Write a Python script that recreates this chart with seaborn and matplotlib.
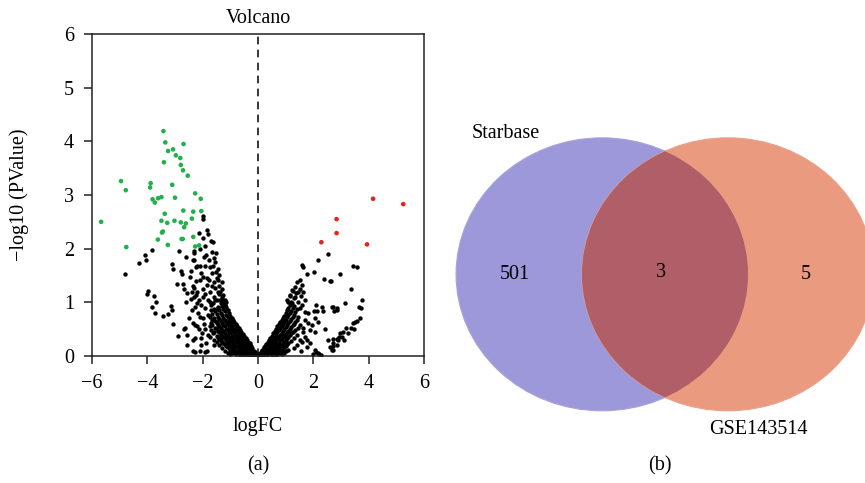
import matplotlib
matplotlib.use("Agg")
import matplotlib.pyplot as plt
from matplotlib.patches import Ellipse
import seaborn as sns
import pandas as pd

# ---------------- data ----------------
up_x = [4.16, 5.25, 2.84, 2.84, 2.29, 3.94]
up_y = [2.93, 2.83, 2.55, 2.29, 2.12, 2.08]

down_x = [-3.42, -3.35, -3.25, -3.07, -2.69, -2.97, -2.81, -3.40, -2.79, -2.71, -2.54,
          -4.95, -4.78, -3.88, -3.90, -3.10, -3.81, -3.73, -3.61, -3.49, -3.00, -2.27,
          -2.07, -5.67, -3.37, -2.70, -2.34, -2.05, -3.49, -3.28, -3.02, -2.79, -2.61,
          -2.67, -2.39, -3.44, -3.47, -3.62, -3.26, -2.76, -2.72, -2.34, -4.76, -2.27, -2.13]
down_y = [4.19, 3.98, 3.82, 3.85, 3.95, 3.74, 3.69, 3.61, 3.56, 3.46, 3.36,
          3.26, 3.09, 3.22, 3.14, 3.19, 2.92, 2.86, 2.94, 2.96, 2.95, 3.03,
          2.93, 2.50, 2.65, 2.71, 2.69, 2.70, 2.52, 2.48, 2.52, 2.49, 2.47,
          2.40, 2.56, 2.32, 2.30, 2.17, 2.07, 2.18, 2.18, 2.22, 2.03, 2.04, 2.06]

left_scatter = [(-4.81, 1.52), (-4.29, 1.74), (-4.08, 1.89), (-4.05, 1.78), (-3.84, 1.98),
    (-4.02, 1.16), (-3.99, 1.21), (-3.75, 1.11), (-3.69, 1.00), (-3.83, 0.92), (-3.71, 0.81),
    (-3.42, 0.74), (-3.24, 0.78), (-3.16, 0.93), (-3.12, 0.86), (-3.06, 0.60), (-2.88, 0.37),
    (-2.56, 0.39), (-2.67, 0.50), (-2.63, 0.53), (-3.10, 1.71), (-3.08, 1.62), (-2.86, 1.96),
    (-2.79, 1.58), (-2.75, 1.53), (-2.60, 1.85), (-2.93, 1.34), (-2.67, 1.25), (-2.56, 1.18),
    (-2.43, 1.58), (-2.45, 1.47), (-2.39, 1.20), (-2.41, 1.06), (-2.37, 0.86), (-2.30, 1.91),
    (-2.31, 1.78), (-2.25, 1.66), (-2.34, 1.31), (-2.31, 1.26), (-2.24, 1.14), (-2.19, 0.98),
    (-2.28, 0.08), (-2.28, 0.58), (-2.34, 0.10), (-2.10, 0.09), (-1.85, 0.10), (-2.05, 0.33),
    (-2.00, 2.60), (-1.98, 2.55), (-1.83, 2.35), (-1.80, 2.27), (-1.71, 2.15), (-1.62, 2.13),
    (-1.67, 1.94), (-1.53, 1.91), (-1.59, 1.82), (-2.31, 1.96), (-2.34, 1.79), (-2.22, 1.68),
    (-2.10, 1.68), (-1.92, 1.68), (-1.73, 1.66), (-1.55, 1.76), (-1.52, 1.57), (-1.40, 1.51),
    (-1.43, 1.42), (-1.31, 1.38), (-1.98, 1.48), (-2.10, 1.42), (-1.85, 1.32), (-1.67, 1.30),
    (-1.55, 1.26), (-1.37, 1.20), (-1.25, 1.14), (-2.22, 1.20), (-2.00, 1.10), (-1.80, 1.04),
    (-1.62, 0.98), (-1.43, 0.92), (-1.19, 0.95), (-1.13, 0.86), (-2.28, 0.92), (-2.10, 0.73),
    (-1.98, 0.70), (-1.80, 0.76), (-1.67, 0.67), (-1.49, 0.64), (-2.34, 0.61), (-2.03, 0.42),
    (-1.80, 0.39), (-1.62, 0.42), (-1.43, 0.36), (-1.31, 0.24), (-1.13, 0.19), (-1.01, 0.17),
    (-0.83, 0.08), (-1.92, 0.08), (-2.28, 0.33), (-1.20, 1.05), (-1.30, 1.25), (-1.45, 1.20),
    (-1.60, 1.10), (-1.75, 1.00), (-1.90, 0.90), (-1.50, 1.45), (-1.65, 1.55), (-1.85, 1.45),
    (-2.00, 1.25), (-2.15, 1.05), (-2.30, 1.10), (-1.95, 1.85), (-2.10, 2.00), (-2.15, 2.30),
    (-1.90, 2.05), (-2.20, 0.55), (-2.50, 0.70), (-2.60, 1.00), (-2.70, 1.35), (-2.55, 0.20),
    (-2.35, 0.30), (-1.90, 0.50), (-2.05, 0.20), (-1.75, 1.20), (-1.58, 1.38), (-1.36, 1.05),
    (-1.28, 0.98), (-1.70, 0.85), (-1.95, 0.60), (-2.12, 0.50), (-1.88, 0.25), (-1.60, 0.20),
    (-1.88, 1.88), (-1.76, 1.78), (-1.64, 1.68), (-1.45, 1.62), (-1.40, 1.30), (-1.55, 1.05),
    (-1.92, 1.15), (-2.05, 0.95), (-2.18, 0.80), (-1.72, 0.55), (-1.55, 0.85), (-2.00, 2.20),
    (-2.05, 1.55), (-1.15, 1.00), (-2.25, 1.40), (-1.78, 1.42)]

left_core = [(-0.05, 0.02), (-0.05, 0.04), (-0.10, 0.03), (-0.10, 0.07), (-0.10, 0.01),
    (-0.15, 0.05), (-0.15, 0.10), (-0.15, 0.02), (-0.20, 0.12), (-0.20, 0.06), (-0.20, 0.15),
    (-0.20, 0.03), (-0.25, 0.18), (-0.25, 0.09), (-0.25, 0.02), (-0.30, 0.20), (-0.30, 0.13),
    (-0.30, 0.05), (-0.30, 0.24), (-0.35, 0.26), (-0.35, 0.17), (-0.35, 0.08), (-0.35, 0.01),
    (-0.40, 0.30), (-0.40, 0.22), (-0.40, 0.11), (-0.40, 0.04), (-0.45, 0.33), (-0.45, 0.25),
    (-0.45, 0.15), (-0.45, 0.06), (-0.50, 0.37), (-0.50, 0.28), (-0.50, 0.19), (-0.50, 0.10),
    (-0.50, 0.02), (-0.55, 0.41), (-0.55, 0.31), (-0.55, 0.22), (-0.55, 0.13), (-0.55, 0.05),
    (-0.60, 0.45), (-0.60, 0.36), (-0.60, 0.26), (-0.60, 0.16), (-0.60, 0.07), (-0.65, 0.48),
    (-0.65, 0.39), (-0.65, 0.29), (-0.65, 0.20), (-0.65, 0.10), (-0.65, 0.02), (-0.70, 0.52),
    (-0.70, 0.42), (-0.70, 0.33), (-0.70, 0.23), (-0.70, 0.13), (-0.70, 0.05), (-0.75, 0.56),
    (-0.75, 0.46), (-0.75, 0.36), (-0.75, 0.26), (-0.75, 0.16), (-0.75, 0.08), (-0.80, 0.60),
    (-0.80, 0.49), (-0.80, 0.39), (-0.80, 0.29), (-0.80, 0.19), (-0.80, 0.10), (-0.80, 0.03),
    (-0.85, 0.63), (-0.85, 0.53), (-0.85, 0.42), (-0.85, 0.32), (-0.85, 0.22), (-0.85, 0.12),
    (-0.90, 0.67), (-0.90, 0.56), (-0.90, 0.46), (-0.90, 0.35), (-0.90, 0.25), (-0.90, 0.15),
    (-0.90, 0.06), (-0.95, 0.70), (-0.95, 0.60), (-0.95, 0.49), (-0.95, 0.38), (-0.95, 0.28),
    (-0.95, 0.18), (-0.95, 0.09), (-1.00, 0.75), (-1.00, 0.64), (-1.00, 0.52), (-1.00, 0.42),
    (-1.00, 0.31), (-1.00, 0.21), (-1.00, 0.11), (-1.00, 0.03), (-1.05, 0.80), (-1.05, 0.68),
    (-1.05, 0.56), (-1.05, 0.45), (-1.05, 0.34), (-1.05, 0.24), (-1.05, 0.14), (-1.10, 0.85),
    (-1.10, 0.72), (-1.10, 0.60), (-1.10, 0.48), (-1.10, 0.37), (-1.10, 0.27), (-1.10, 0.16),
    (-1.10, 0.06), (-1.15, 0.92), (-1.15, 0.77), (-1.15, 0.63), (-1.15, 0.51), (-1.15, 0.40),
    (-1.15, 0.30), (-1.15, 0.19), (-1.20, 0.98), (-1.20, 0.83), (-1.20, 0.67), (-1.20, 0.55),
    (-1.20, 0.43), (-1.20, 0.33), (-1.20, 0.22), (-1.20, 0.10), (-1.25, 1.05), (-1.25, 0.88),
    (-1.25, 0.71), (-1.25, 0.58), (-1.25, 0.46), (-1.25, 0.36), (-1.25, 0.25), (-1.30, 1.10),
    (-1.30, 0.93), (-1.30, 0.76), (-1.30, 0.61), (-1.30, 0.49), (-1.30, 0.38), (-1.30, 0.27),
    (-1.30, 0.14), (-1.35, 0.99), (-1.35, 0.80), (-1.35, 0.65), (-1.35, 0.52), (-1.35, 0.41),
    (-1.35, 0.30), (-1.40, 1.15), (-1.40, 0.85), (-1.40, 0.69), (-1.40, 0.55), (-1.40, 0.44),
    (-1.40, 0.32), (-1.40, 0.20), (-1.45, 0.90), (-1.45, 0.73), (-1.45, 0.58), (-1.45, 0.47),
    (-1.45, 0.35), (-1.50, 1.05), (-1.50, 0.78), (-1.50, 0.62), (-1.50, 0.50), (-1.50, 0.38),
    (-1.50, 0.26), (-1.55, 0.83), (-1.55, 0.66), (-1.55, 0.53), (-1.60, 0.88), (-1.60, 0.70),
    (-1.60, 0.45), (-1.60, 0.30), (-1.65, 0.79), (-1.65, 0.57), (-1.70, 0.95), (-1.70, 0.62),
    (-1.70, 0.48), (-1.75, 0.72), (-1.75, 0.35)]

right_core = [(0.05, 0.02), (0.05, 0.04), (0.10, 0.06), (0.10, 0.02), (0.10, 0.08),
    (0.15, 0.10), (0.15, 0.04), (0.15, 0.12), (0.20, 0.14), (0.20, 0.07), (0.20, 0.02),
    (0.20, 0.16), (0.25, 0.18), (0.25, 0.10), (0.25, 0.04), (0.30, 0.22), (0.30, 0.14),
    (0.30, 0.06), (0.30, 0.01), (0.35, 0.26), (0.35, 0.17), (0.35, 0.09), (0.35, 0.03),
    (0.40, 0.30), (0.40, 0.21), (0.40, 0.12), (0.40, 0.05), (0.45, 0.34), (0.45, 0.25),
    (0.45, 0.15), (0.45, 0.07), (0.50, 0.38), (0.50, 0.28), (0.50, 0.19), (0.50, 0.10),
    (0.50, 0.02), (0.55, 0.42), (0.55, 0.32), (0.55, 0.22), (0.55, 0.13), (0.55, 0.05),
    (0.60, 0.46), (0.60, 0.36), (0.60, 0.26), (0.60, 0.16), (0.60, 0.07), (0.65, 0.50),
    (0.65, 0.40), (0.65, 0.29), (0.65, 0.19), (0.65, 0.10), (0.65, 0.02), (0.70, 0.55),
    (0.70, 0.44), (0.70, 0.33), (0.70, 0.22), (0.70, 0.12), (0.70, 0.04), (0.75, 0.59),
    (0.75, 0.48), (0.75, 0.36), (0.75, 0.25), (0.75, 0.15), (0.75, 0.06), (0.80, 0.63),
    (0.80, 0.52), (0.80, 0.40), (0.80, 0.29), (0.80, 0.18), (0.80, 0.08), (0.85, 0.67),
    (0.85, 0.55), (0.85, 0.43), (0.85, 0.32), (0.85, 0.21), (0.85, 0.11), (0.85, 0.03),
    (0.90, 0.71), (0.90, 0.59), (0.90, 0.47), (0.90, 0.35), (0.90, 0.24), (0.90, 0.13),
    (0.95, 0.75), (0.95, 0.63), (0.95, 0.50), (0.95, 0.38), (0.95, 0.27), (0.95, 0.16),
    (0.95, 0.06), (1.00, 0.80), (1.00, 0.67), (1.00, 0.54), (1.00, 0.41), (1.00, 0.30),
    (1.00, 0.19), (1.00, 0.09), (1.05, 0.85), (1.05, 0.72), (1.05, 0.57), (1.05, 0.44),
    (1.05, 0.33), (1.05, 0.22), (1.10, 0.90), (1.10, 0.76), (1.10, 0.61), (1.10, 0.47),
    (1.10, 0.36), (1.10, 0.25), (1.10, 0.12), (1.15, 0.95), (1.15, 0.80), (1.15, 0.65),
    (1.15, 0.50), (1.15, 0.39), (1.20, 1.00), (1.20, 0.84), (1.20, 0.69), (1.20, 0.54),
    (1.20, 0.42), (1.20, 0.28), (1.25, 0.89), (1.25, 0.73), (1.25, 0.58), (1.25, 0.45),
    (1.30, 0.93), (1.30, 0.77), (1.30, 0.60), (1.30, 0.33), (1.30, 0.15), (1.35, 0.82),
    (1.35, 0.64), (1.35, 0.48), (1.40, 0.87), (1.40, 0.68), (1.40, 0.40), (1.40, 0.20),
    (1.45, 0.72), (1.45, 0.52), (1.50, 0.90), (1.50, 0.58), (1.50, 0.30)]

right_scatter = [(1.58, 1.70), (1.62, 1.66), (1.76, 1.53), (2.04, 1.56), (2.16, 1.79),
    (2.54, 1.90), (1.40, 1.38), (1.52, 1.42), (1.58, 1.32), (1.34, 1.29), (1.22, 1.23),
    (1.46, 1.20), (1.64, 1.20), (1.16, 1.14), (1.34, 1.10), (1.70, 1.04), (1.10, 1.01),
    (1.22, 0.98), (2.40, 1.43), (2.60, 1.40), (2.08, 0.95), (2.04, 0.83), (2.30, 0.92),
    (1.82, 0.80), (2.12, 0.84), (2.36, 0.83), (2.70, 0.92), (2.84, 0.86), (2.06, 0.70),
    (2.18, 0.64), (2.42, 0.50), (1.70, 0.67), (1.82, 0.61), (1.64, 0.52), (1.88, 0.48),
    (2.06, 0.45), (1.70, 0.36), (1.58, 0.27), (1.88, 0.24), (1.76, 0.17), (2.06, 0.11),
    (2.18, 0.05), (2.60, 0.17), (2.72, 0.24), (2.66, 0.11), (2.88, 0.30), (2.54, 0.30),
    (3.45, 1.68), (3.59, 1.66), (2.96, 1.52), (2.63, 1.40), (3.35, 1.25), (3.16, 0.98),
    (3.77, 1.04), (3.65, 0.91), (3.72, 0.90), (2.69, 0.92), (2.75, 0.84), (2.87, 0.90),
    (3.69, 0.71), (3.57, 0.66), (3.51, 0.64), (3.42, 0.61), (3.35, 0.52), (3.47, 0.51),
    (3.18, 0.52), (3.26, 0.42), (3.08, 0.45), (2.96, 0.42), (3.02, 0.36), (2.94, 0.35),
    (2.84, 0.31), (2.72, 0.31), (3.11, 0.29), (2.87, 0.20), (2.70, 0.19), (2.72, 0.11),
    (2.00, 0.04), (2.10, 0.07), (2.20, 0.03), (2.28, 0.01), (1.05, 1.05), (1.15, 1.12),
    (1.25, 1.22), (1.30, 1.08), (1.38, 1.18), (1.45, 1.00), (1.55, 1.12), (1.50, 1.25),
    (1.60, 0.95), (1.70, 0.82), (1.62, 0.45), (1.78, 0.30), (1.55, 0.10), (1.95, 0.58)]

ns_x = [p[0] for p in left_scatter + left_core + right_core + right_scatter]
ns_y = [p[1] for p in left_scatter + left_core + right_core + right_scatter]

x_ticks = [-6, -4, -2, 0, 2, 4, 6]
y_ticks = [0, 1, 2, 3, 4, 5, 6]

venn_sets = ["Starbase", "GSE143514"]
venn_counts = [501, 3, 5]   # only Starbase, both, only GSE143514

# ---------------- style ----------------
sns.set_theme(style="white")
plt.rcParams["font.family"] = ["Liberation Serif", "DejaVu Serif"]
plt.rcParams["axes.unicode_minus"] = True
plt.rcParams["text.color"] = "black"
plt.rcParams["axes.labelcolor"] = "black"
plt.rcParams["xtick.color"] = "black"
plt.rcParams["ytick.color"] = "black"
FS = 14.5

fig = plt.figure(figsize=(8.65, 4.83), dpi=100)
W, H = 865, 483
ax = fig.add_axes([92 / W, 1 - 356 / H, 332 / W, 322 / H])

df_ns = pd.DataFrame({"logFC": ns_x, "nlogp": ns_y})
df_sig = pd.DataFrame({"logFC": up_x + down_x, "nlogp": up_y + down_y,
                       "group": ["Up"] * len(up_x) + ["Down"] * len(down_x)})

sns.scatterplot(data=df_ns, x="logFC", y="nlogp", color="black", s=10,
                linewidth=0, ax=ax, legend=False)
sns.scatterplot(data=df_sig, x="logFC", y="nlogp", hue="group",
                palette={"Up": "#e5231b", "Down": "#1fb24a"}, s=11,
                linewidth=0, ax=ax, legend=False)
ax.axvline(0, color="black", lw=1.1, ls=(0, (5, 3.5)))

ax.set_xlim(-6, 6)
ax.set_ylim(0, 6)
ax.set_xticks(x_ticks)
ax.set_yticks(y_ticks)
ax.tick_params(axis="both", which="major", direction="out", length=6, width=1.1,
               color="#222222", labelcolor="black", labelsize=FS,
               bottom=True, left=True, pad=7)
for sp in ax.spines.values():
    sp.set_linewidth(1.1)
    sp.set_color("#222222")
ax.set_title("Volcano", fontsize=FS, pad=8, color="black")
ax.set_xlabel("logFC", fontsize=FS, color="black")
ax.set_ylabel("\u2212log10 (PValue)", fontsize=FS, color="black")
ax.xaxis.set_label_coords(0.5, -0.19)
ax.yaxis.set_label_coords(-0.19, 0.5)

fig.text(258 / W, 1 - 466 / H, "(a)", ha="center", va="center", fontsize=FS, color="black")
fig.text(660 / W, 1 - 466 / H, "(b)", ha="center", va="center", fontsize=FS, color="black")

# ---------------- Venn ----------------
ax2 = fig.add_axes([440 / W, 0, 425 / W, 1])
ax2.set_xlim(-1.110, 1.801)
ax2.set_ylim(-1.529, 2.010)
ax2.axis("off")
d = 0.862
left = Ellipse((0, 0), 2, 2, facecolor="#9d98d9", edgecolor="#a8a2dc", lw=0.8)
right = Ellipse((d, 0), 2, 2, facecolor="#e99a7f", edgecolor="#eaa08a", lw=0.8)
ax2.add_patch(left)
ax2.add_patch(right)
mid = Ellipse((d, 0), 2, 2, facecolor="#b05f68", edgecolor="none")
ax2.add_patch(mid)
mid.set_clip_path(left)
ax2.text(-0.60, 0.0, str(venn_counts[0]), ha="center", va="center", fontsize=FS, color="black")
ax2.text(d / 2 - 0.03, 0.01, str(venn_counts[1]), ha="center", va="center", fontsize=FS, color="black")
ax2.text(1.395, 0.0, str(venn_counts[2]), ha="center", va="center", fontsize=FS, color="black")
ax2.text(-0.66, 1.035, venn_sets[0], ha="center", va="center", fontsize=FS, color="black")
ax2.text(1.07, -1.14, venn_sets[1], ha="center", va="center", fontsize=FS, color="black")

fig.savefig("out.png", dpi=100)
